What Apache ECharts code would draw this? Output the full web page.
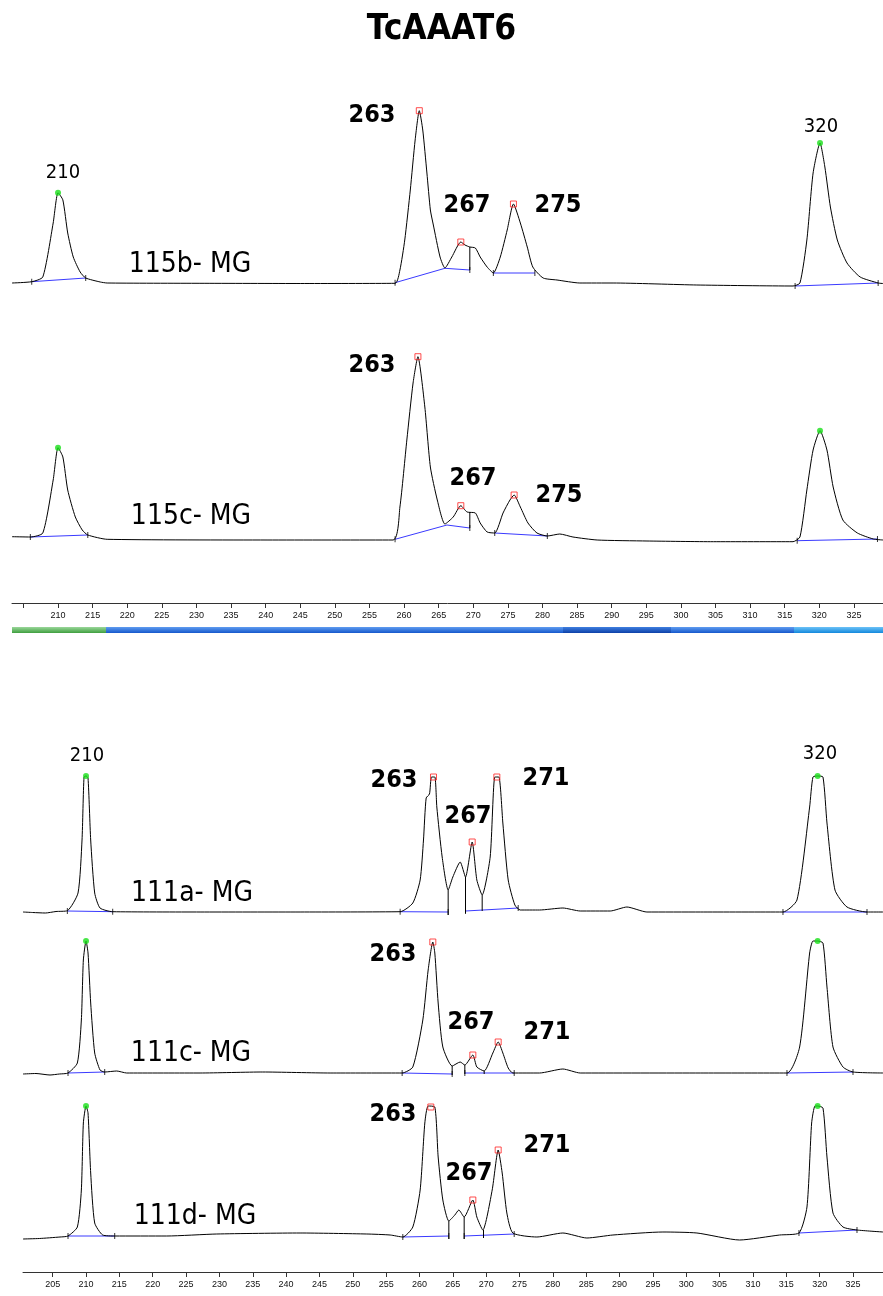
<!DOCTYPE html>
<html>
<head>
<meta charset="utf-8">
<script src="https://cdn.jsdelivr.net/npm/echarts@6/dist/echarts.min.js"></script>
<style>html,body{margin:0;padding:0;background:#fff}#c{width:883px;height:1296px}</style>
</head>
<body>
<div id="c"></div>
<script>
// ---------- DATA (bp, signal) ----------
const topTicks = [205,210,215,220,225,230,235,240,245,250,255,260,265,270,275,280,285,290,295,300,305,310,315,320,325];
const topLabels = [210,215,220,225,230,235,240,245,250,255,260,265,270,275,280,285,290,295,300,305,310,315,320,325];
const bottomTicks = [205,210,215,220,225,230,235,240,245,250,255,260,265,270,275,280,285,290,295,300,305,310,315,320,325];
const bottomLabels = [205,210,215,220,225,230,235,240,245,250,255,260,265,270,275,280,285,290,295,300,305,310,315,320,325];

const sampleNames = ["115b- MG","115c- MG","111a- MG","111c- MG","111d- MG"];

const trace115b = [[203.35,7],[206.2,8.3],[207.8,13],[209.3,67],[210.0,97.3],[210.7,90],[211.4,57],[212.2,33],[213.2,18],[214.0,12],[216.1,8],[217.1,7],[230.5,6.7],[245.0,6.5],[258.7,6.7],[259.4,20],[260.1,50],[260.9,100],[261.6,150],[262.2,179.3],[262.7,160],[263.3,117],[263.8,80],[264.2,66],[265.2,33],[265.9,22],[266.9,33],[268.2,48],[268.8,45],[269.5,43],[270.3,42],[271.0,33],[272.0,23],[272.9,17],[273.9,33],[274.9,60],[275.8,86],[276.8,67],[277.8,43],[278.6,23],[280.1,12],[282.1,10],[285.4,7],[290.2,7],[302.3,5],[316.2,4],[317.2,7],[318.2,50],[319.1,117],[320.1,147],[320.8,123],[321.6,83],[322.6,50],[324.0,27],[325.9,13],[328.5,7],[329.2,6.5]];
const base115b = [[[206.2,8.3],[214.0,12]],[[258.7,7.3],[265.9,21.7],[269.5,20]],[[272.9,17],[278.9,17]],[[316.5,4],[328.5,7]]];
const split115b = [[269.5,20,43]];
const sizes115b = [[210.0,97.3],[320.1,147]];
const alleles115b = [[262.2,179.3],[268.2,48],[275.8,86]];

const trace115c = [[203.35,8.3],[206.0,8],[207.8,12],[209.3,65],[210.0,97.3],[210.7,88],[211.4,55],[212.5,28],[213.5,15],[214.3,10],[217.1,5.7],[240.2,5],[258.4,5],[259.4,38],[260.4,105],[261.3,162],[262.0,188.3],[263.0,138],[263.8,78],[264.8,45],[265.9,21],[267.1,28],[268.2,39.3],[269.1,33],[270.3,32],[271.0,22],[272.0,13],[273.1,12],[274.3,32],[275.3,45],[275.9,50],[276.8,38],[277.9,22],[279.2,12],[280.7,9],[282.5,11],[284.4,8],[287.9,5],[295.1,4],[304.7,3.3],[316.2,3.3],[317.2,8],[318.2,55],[319.1,95],[320.1,114.3],[321.1,95],[322.0,58],[323.4,25],[325.5,12],[327.8,6],[329.2,5]];
const base115c = [[[206.0,8],[214.3,10]],[[258.7,5.7],[266.2,20],[269.5,17]],[[273.1,12],[280.7,9]],[[316.8,4.3],[328.4,6]]];
const split115c = [[269.5,17,33]];
const sizes115c = [[210.0,97.3],[320.1,114.3]];
const alleles115c = [[262.0,188.3],[268.2,39.3],[275.9,50]];

const trace111a = [[200.55,3],[202.0,2.5],[203.9,2],[205.5,3.5],[207.2,4.3],[208.8,22],[209.4,75],[209.7,138],[210.0,139],[210.3,137],[210.7,75],[211.3,22],[212.1,7],[214.0,3.3],[227.1,3],[242.1,3],[257.1,3.3],[259.0,12],[260.1,35],[260.6,75],[261.0,117],[261.5,121],[261.8,138],[262.3,138],[262.6,108],[263.4,58],[264.3,25],[265.0,38],[266.1,53],[266.9,38],[267.9,73],[268.6,35],[269.4,20],[270.6,58],[271.3,138],[271.9,138],[272.5,92],[273.3,35],[274.3,10],[275.1,5],[278.0,5],[281.5,7],[284.1,4],[288.6,4],[291.1,8],[294.1,3],[302.1,3],[314.5,3],[316.6,15],[318.5,108],[319.0,138],[319.7,139],[320.5,138],[321.1,92],[322.3,25],[324.1,8],[327.1,3],[329.5,3]];
const base111a = [[[207.2,4],[214.0,3.3]],[[257.1,3.3],[264.3,3]],[[266.9,4],[274.8,7]],[[314.5,3],[327.1,3]]];
const split111a = [[264.3,0,25],[266.9,2,38],[269.4,4,20]];
const sizes111a = [[210.0,139],[319.7,139]];
const alleles111a = [[262.1,138],[267.9,73],[271.6,138]];

const trace111c = [[200.55,6],[202.5,6.5],[204.6,5],[206.0,6],[207.3,7],[208.7,17],[209.3,60],[209.6,120],[210.0,139],[210.3,127],[210.7,77],[211.3,27],[212.1,10],[212.8,8],[214.6,9],[216.1,7],[227.1,7],[236.5,8],[246.6,7],[257.4,7],[259.0,13],[260.5,60],[261.3,110],[262.0,138],[262.3,127],[262.8,77],[263.5,33],[264.9,14],[266.1,18],[266.8,15],[268.0,25],[268.6,13],[269.7,9],[271.0,27],[271.8,38],[272.5,27],[273.3,12],[274.0,7],[278.0,7],[281.5,11],[284.1,7],[302.1,7],[315.1,7],[317.0,33],[318.5,127],[319.0,139],[319.7,139],[320.5,137],[321.1,93],[322.0,33],[323.5,13],[325.0,8],[329.5,7]];
const base111c = [[[207.3,7],[212.8,8]],[[257.4,7],[264.9,6]],[[266.8,7],[274.2,7]],[[315.1,7],[325.0,8]]];
const split111c = [[264.9,5,14],[266.8,6,15],[269.7,6,9]];
const sizes111c = [[210.0,139],[319.7,139]];
const alleles111c = [[262.0,138],[268.0,25],[271.8,38]];

const trace111d = [[200.55,6],[203.0,6.5],[206.1,8],[207.3,9],[208.7,18],[209.3,55],[209.6,122],[210.0,139],[210.3,132],[210.7,72],[211.3,22],[212.5,10],[214.3,9],[222.1,9],[229.6,11],[242.1,12],[252.1,11],[255.6,10],[257.5,8],[259.0,18],[260.1,55],[260.8,122],[261.3,139],[262.3,138],[262.8,88],[263.5,45],[264.4,24],[265.3,30],[265.9,35],[266.7,28],[268.0,45],[268.6,28],[269.5,15],[270.9,55],[271.8,95],[272.4,72],[273.1,32],[274.0,12],[277.6,8],[281.5,12],[285.1,7],[289.0,10],[296.5,13],[301.6,12],[308.0,5],[314.0,10],[316.9,12],[318.1,38],[318.8,122],[319.3,139],[319.7,139],[320.5,137],[321.1,88],[322.0,32],[323.5,18],[325.6,15],[329.5,13]];
const base111d = [[[207.3,9],[214.3,9]],[[257.5,8],[264.4,9]],[[266.7,9],[274.2,11]],[[316.9,12],[325.6,15]]];
const split111d = [[264.4,6,24],[266.7,6,28],[269.6,7,15]];
const sizes111d = [[210.0,139],[319.7,139]];
const alleles111d = [[261.7,138],[268.0,45],[271.8,95]];

// ---------- LAYOUT ----------
const panels = [
  {trace:trace115b, base:base115b, split:split115b, sizes:sizes115b, alleles:alleles115b},
  {trace:trace115c, base:base115c, split:split115c, sizes:sizes115c, alleles:alleles115c},
  {trace:trace111a, base:base111a, split:split111a, sizes:sizes111a, alleles:alleles111a},
  {trace:trace111c, base:base111c, split:split111c, sizes:sizes111c, alleles:alleles111c},
  {trace:trace111d, base:base111d, split:split111d, sizes:sizes111d, alleles:alleles111d}
];
const boxes = [
  {top:90, height:200, left:12, min:203.35, max:329.2},
  {top:340, height:205, left:12, min:203.35, max:329.2},
  {top:760, height:155, left:23, min:200.55, max:329.5},
  {top:930, height:150, left:23, min:200.55, max:329.5},
  {top:1095, height:150, left:23, min:200.55, max:329.5}
];

const grids = [], xAxes = [], yAxes = [], series = [];
const lblFont = 'Liberation Sans';
boxes.forEach((b, i) => {
  grids.push({left:b.left, right:0, top:b.top, height:b.height, containLabel:false});
  const ax = {gridIndex:i, type:'value', min:b.min, max:b.max, show:false, splitLine:{show:false}};
  if (i === 1 || i === 4) {
    Object.assign(ax, {
      show:true, position:'bottom', offset: (i === 1 ? 58 : 27),
      axisLine:{show:true, onZero:false, lineStyle:{color:'#333', width:1}},
      axisTick:{show:true, length:5, inside:false, customValues: i === 1 ? topTicks : bottomTicks, lineStyle:{color:'#333', width:1}},
      axisLabel:{show:true, customValues: i === 1 ? topLabels : bottomLabels, fontSize:9, color:'#111', margin:8, fontFamily:lblFont},
      splitLine:{show:false}
    });
  }
  xAxes.push(ax);
  yAxes.push({gridIndex:i, type:'value', min:0, max:b.height, show:false, splitLine:{show:false}});

  const p = panels[i];
  p.base.forEach(seg => {
    series.push({type:'line', xAxisIndex:i, yAxisIndex:i, data:seg, symbol:'none', silent:true,
      lineStyle:{color:'#3a3aff', width:1}, z:2, animation:false});
  });
  p.split.forEach(s => {
    series.push({type:'line', xAxisIndex:i, yAxisIndex:i, data:[[s[0], s[1]],[s[0], s[2]]], symbol:'none', silent:true,
      lineStyle:{color:'#000', width:1}, z:3, animation:false});
  });
  const ends = [];
  p.base.forEach(seg => { ends.push(seg[0]); ends.push(seg[seg.length-1]); });
  series.push({type:'scatter', xAxisIndex:i, yAxisIndex:i, data:ends, symbol:'rect', symbolSize:[1,6],
    itemStyle:{color:'#000'}, z:3, silent:true, animation:false});
  series.push({type:'line', xAxisIndex:i, yAxisIndex:i, data:p.trace, symbol:'none', smooth:0.2, silent:true,
    lineStyle:{color:'#000', width:1}, z:4, animation:false});
  series.push({type:'scatter', xAxisIndex:i, yAxisIndex:i, data:p.sizes, symbol:'circle', symbolSize:6,
    itemStyle:{color:'#19e019'}, z:6, silent:true, animation:false});
  series.push({type:'scatter', xAxisIndex:i, yAxisIndex:i, data:p.alleles, symbol:'rect', symbolSize:6,
    itemStyle:{color:'rgba(255,255,255,0)', borderColor:'#ff2020', borderWidth:1}, z:6, silent:true, animation:false});
});

// ---------- ANNOTATION TEXT ----------
const F = 'DejaVu Sans Condensed, DejaVu Sans, sans-serif';
function txt(t, x, y, size, bold) {
  return {type:'text', silent:true, z:10,
    style:{text:t, x:x, y:y, fill:'#000', font:(bold ? 'bold ' : '') + size + 'px ' + F,
      textAlign:'center', textVerticalAlign:'middle', align:'center', verticalAlign:'middle'}};
}
const graphic = [
  {type:'rect', silent:true, shape:{x:12, y:627, width:94, height:6},
   style:{fill:new echarts.graphic.LinearGradient(0,0,0,1,[{offset:0,color:'#9ad79a'},{offset:1,color:'#3f9f3f'}])}},
  {type:'rect', silent:true, shape:{x:106, y:627, width:688, height:6},
   style:{fill:new echarts.graphic.LinearGradient(0,0,0,1,[{offset:0,color:'#5f9cf0'},{offset:1,color:'#1558cc'}])}},
  {type:'rect', silent:true, shape:{x:563, y:627, width:108, height:6},
   style:{fill:new echarts.graphic.LinearGradient(0,0,0,1,[{offset:0,color:'#3f7fe0'},{offset:1,color:'#0c40a8'}])}},
  {type:'rect', silent:true, shape:{x:794, y:627, width:89, height:6},
   style:{fill:new echarts.graphic.LinearGradient(0,0,0,1,[{offset:0,color:'#6cc2f7'},{offset:1,color:'#1388dc'}])}},

  txt(sampleNames[0], 190, 265, 28, false),
  txt('263', 372, 115, 25, true), txt('267', 467, 205, 25, true), txt('275', 558, 205, 25, true),
  txt('210', 63, 173, 20, false), txt('320', 821, 127, 20, false),

  txt(sampleNames[1], 191, 517, 28, false),
  txt('263', 372, 365, 25, true), txt('267', 473, 478, 25, true), txt('275', 559, 495, 25, true),

  txt(sampleNames[2], 192, 894, 28, false),
  txt('210', 87, 756, 20, false), txt('320', 820, 754, 20, false),
  txt('263', 394, 780, 25, true), txt('267', 468, 816, 25, true), txt('271', 546, 778, 25, true),

  txt(sampleNames[3], 191, 1054, 28, false),
  txt('263', 393, 954, 25, true), txt('267', 471, 1022, 25, true), txt('271', 547, 1032, 25, true),

  txt(sampleNames[4], 195, 1217, 28, false),
  txt('263', 393, 1114, 25, true), txt('267', 469, 1173, 25, true), txt('271', 547, 1145, 25, true)
];

const chart = echarts.init(document.getElementById('c'), null, {renderer:'canvas'});
chart.setOption({
  backgroundColor:'#ffffff',
  animation:false,
  title:{text:'TcAAAT6', left:'center', top:7,
    textStyle:{fontSize:35, fontWeight:'bold', color:'#000', fontFamily:F}},
  grid:grids, xAxis:xAxes, yAxis:yAxes, series:series, graphic:graphic
});
</script>
</body>
</html>
